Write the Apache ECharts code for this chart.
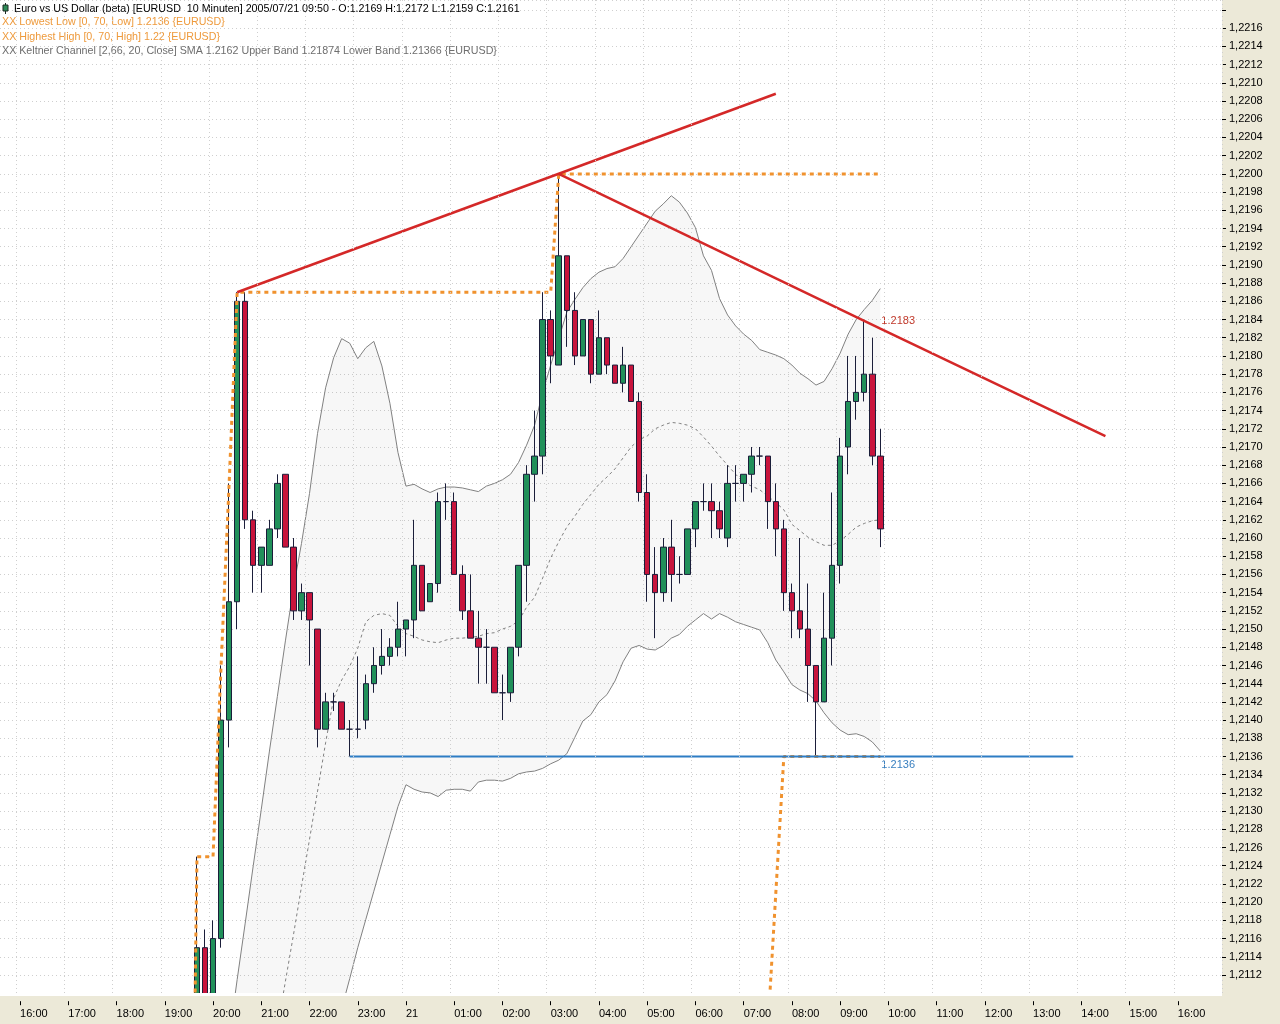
<!DOCTYPE html>
<html>
<head>
<meta charset="utf-8">
<title>Euro vs US Dollar - 10 Minuten</title>
<script src="https://cdn.jsdelivr.net/npm/echarts@6.0.0/dist/echarts.min.js"></script>
<style>
  html, body { margin: 0; padding: 0; background: #ECE9D8; }
  #chart { width: 1280px; height: 1024px; }
</style>
</head>
<body>
<div id="chart"></div>
<script>
// Kerzen (10 Minuten), 2005/07/20 19:40 bis 2005/07/21 09:50
var candleTimes = [
  '19:40','19:50','20:00','20:10','20:20','20:30','20:40','20:50','21:00','21:10','21:20','21:30',
  '21:40','21:50','22:00','22:10','22:20','22:30','22:40','22:50','23:00','23:10','23:20','23:30',
  '23:40','23:50','00:00','00:10','00:20','00:30','00:40','00:50','01:00','01:10','01:20','01:30',
  '01:40','01:50','02:00','02:10','02:20','02:30','02:40','02:50','03:00','03:10','03:20','03:30',
  '03:40','03:50','04:00','04:10','04:20','04:30','04:40','04:50','05:00','05:10','05:20','05:30',
  '05:40','05:50','06:00','06:10','06:20','06:30','06:40','06:50','07:00','07:10','07:20','07:30',
  '07:40','07:50','08:00','08:10','08:20','08:30','08:40','08:50','09:00','09:10','09:20','09:30',
  '09:40','09:50'
];
var opens = [
  1.2106, 1.2115, 1.2108, 1.2116, 1.2140, 1.2153, 1.2186, 1.2162, 1.2157, 1.2157, 1.2161, 1.2167,
  1.2159, 1.2152, 1.2154, 1.2150, 1.2139, 1.2142, 1.2142, 1.2139, 1.2139, 1.2140, 1.2144, 1.2146,
  1.2147, 1.2148, 1.2150, 1.2151, 1.2157, 1.2153, 1.2155, 1.2164, 1.2164, 1.2156, 1.2152, 1.2149,
  1.2148, 1.2148, 1.2143, 1.2143, 1.2148, 1.2157, 1.2167, 1.2169, 1.2184, 1.2179, 1.2191, 1.2185,
  1.2180, 1.2184, 1.2178, 1.2182, 1.2179, 1.2177, 1.2179, 1.2175, 1.2165, 1.2156, 1.2154, 1.2159,
  1.2156, 1.2156, 1.2161, 1.2164, 1.2164, 1.2163, 1.2160, 1.2166, 1.2166, 1.2167, 1.2169, 1.2169,
  1.2164, 1.2161, 1.2154, 1.2152, 1.2150, 1.2146, 1.2142, 1.2149, 1.2157, 1.2170, 1.2175, 1.2176,
  1.2178, 1.2169
];
var highs = [
  1.2125, 1.2117, 1.2118, 1.2146, 1.2166, 1.2187, 1.2187, 1.2163, 1.2159, 1.2162, 1.2167, 1.2167,
  1.2160, 1.2155, 1.2154, 1.2150, 1.2143, 1.2143, 1.2142, 1.2140, 1.2147, 1.2145, 1.2148, 1.2150,
  1.2149, 1.2153, 1.2151, 1.2162, 1.2157, 1.2155, 1.2165, 1.2166, 1.2165, 1.2157, 1.2156, 1.2152,
  1.2150, 1.2148, 1.2145, 1.2148, 1.2157, 1.2168, 1.2174, 1.2187, 1.2185, 1.2200, 1.2191, 1.2187,
  1.2184, 1.2184, 1.2185, 1.2182, 1.2179, 1.2181, 1.2179, 1.2176, 1.2167, 1.2159, 1.2160, 1.2162,
  1.2158, 1.2161, 1.2164, 1.2166, 1.2166, 1.2164, 1.2168, 1.2168, 1.2167, 1.2170, 1.2170, 1.2169,
  1.2166, 1.2162, 1.2155, 1.2160, 1.2155, 1.2146, 1.2154, 1.2165, 1.2171, 1.2180, 1.2180, 1.2184,
  1.2182, 1.2172
];
var lows = [
  1.2104, 1.2105, 1.2106, 1.2115, 1.2137, 1.2150, 1.2161, 1.2154, 1.2154, 1.2157, 1.2160, 1.2159,
  1.2151, 1.2151, 1.2146, 1.2137, 1.2139, 1.2141, 1.2139, 1.2136, 1.2138, 1.2139, 1.2143, 1.2145,
  1.2146, 1.2147, 1.2147, 1.2149, 1.2152, 1.2153, 1.2154, 1.2162, 1.2156, 1.2151, 1.2149, 1.2144,
  1.2144, 1.2143, 1.2140, 1.2142, 1.2147, 1.2153, 1.2164, 1.2167, 1.2177, 1.2179, 1.2181, 1.2179,
  1.2180, 1.2177, 1.2178, 1.2178, 1.2177, 1.2176, 1.2175, 1.2164, 1.2153, 1.2149, 1.2153, 1.2153,
  1.2155, 1.2156, 1.2159, 1.2163, 1.2160, 1.2160, 1.2159, 1.2164, 1.2164, 1.2165, 1.2168, 1.2161,
  1.2158, 1.2152, 1.2149, 1.2149, 1.2142, 1.2136, 1.2142, 1.2146, 1.2155, 1.2167, 1.2173, 1.2175,
  1.2168, 1.2159
];
var closes = [
  1.2115, 1.2107, 1.2116, 1.2140, 1.2153, 1.2186, 1.2162, 1.2157, 1.2159, 1.2161, 1.2166, 1.2159,
  1.2152, 1.2154, 1.2151, 1.2139, 1.2142, 1.2142, 1.2139, 1.2139, 1.2139, 1.2144, 1.2146, 1.2147,
  1.2148, 1.2150, 1.2151, 1.2157, 1.2152, 1.2155, 1.2164, 1.2164, 1.2156, 1.2152, 1.2149, 1.2148,
  1.2148, 1.2143, 1.2143, 1.2148, 1.2157, 1.2167, 1.2169, 1.2184, 1.2180, 1.2191, 1.2185, 1.2180,
  1.2184, 1.2178, 1.2182, 1.2179, 1.2177, 1.2179, 1.2175, 1.2165, 1.2156, 1.2154, 1.2159, 1.2156,
  1.2156, 1.2161, 1.2164, 1.2164, 1.2163, 1.2161, 1.2166, 1.2166, 1.2167, 1.2169, 1.2169, 1.2164,
  1.2161, 1.2154, 1.2152, 1.2150, 1.2146, 1.2142, 1.2149, 1.2157, 1.2169, 1.2175, 1.2176, 1.2178,
  1.2169, 1.2161
];

// Keltner Channel [2,66, 20, Close], gleiche Zeitpunkte wie die Kerzen
var kcUpper = [
  null, null, null, null, 1.2105, 1.21115, 1.21177, 1.2124, 1.21302, 1.21365, 1.21426, 1.21487,
  1.21545, 1.21594, 1.21649, 1.21715, 1.21765, 1.21798, 1.21819, 1.21814, 1.21797, 1.21809, 1.21816, 1.21789,
  1.21748, 1.21694, 1.21657, 1.21659, 1.21654, 1.2165, 1.21654, 1.21656, 1.21656, 1.21655, 1.21653, 1.21651,
  1.21657, 1.2166, 1.21664, 1.2167, 1.21683, 1.21702, 1.21724, 1.2176, 1.2179, 1.21819, 1.21848, 1.21862,
  1.21875, 1.21885, 1.21892, 1.21896, 1.21898, 1.21907, 1.2192, 1.21933, 1.21946, 1.21959, 1.21967, 1.21976,
  1.21969, 1.21957, 1.21941, 1.2191, 1.21894, 1.21863, 1.21845, 1.21833, 1.21824, 1.21817, 1.21807, 1.21804,
  1.21801, 1.21797, 1.2179, 1.21781, 1.21775, 1.21768, 1.21772, 1.21786, 1.21803, 1.21824, 1.2184, 1.21851,
  1.21861, 1.21874
];
var kcMiddle = [
  null, null, null, null, null, null, null, null, null, null, 1.21061, 1.21113,
  1.21164, 1.21217, 1.21269, 1.21322, 1.21375, 1.21424, 1.21444, 1.21459, 1.21479, 1.21508, 1.21515, 1.21517,
  1.21515, 1.21503, 1.21495, 1.21492, 1.21488, 1.21486, 1.21485, 1.21488, 1.2149, 1.2149, 1.21491, 1.21492,
  1.21495, 1.21496, 1.215, 1.21503, 1.21509, 1.21524, 1.21535, 1.21556, 1.21578, 1.21596, 1.21612, 1.21624,
  1.21637, 1.21648, 1.21659, 1.21667, 1.21676, 1.21688, 1.217, 1.21708, 1.21712, 1.2172, 1.21724, 1.21727,
  1.21726, 1.21724, 1.2172, 1.21711, 1.21701, 1.2169, 1.2168, 1.2167, 1.21661, 1.21657, 1.21653, 1.21646,
  1.21639, 1.21631, 1.21615, 1.21608, 1.21601, 1.21596, 1.21592, 1.21592, 1.21597, 1.21604, 1.21612, 1.21616,
  1.21619, 1.2162
];
var kcLower = [
  null, null, null, null, null, null, null, null, null, null, null, null,
  null, null, null, null, null, 1.21049, 1.21083, 1.21116, 1.2115, 1.21181, 1.21212, 1.21243,
  1.21274, 1.21305, 1.21329, 1.21324, 1.21321, 1.2132, 1.21316, 1.21323, 1.21324, 1.21324, 1.21322, 1.21332,
  1.21334, 1.21334, 1.21333, 1.21336, 1.21341, 1.21343, 1.21344, 1.21347, 1.21352, 1.21356, 1.21363, 1.21381,
  1.21399, 1.21406, 1.2142, 1.21428, 1.21443, 1.21464, 1.21479, 1.21482, 1.21478, 1.21477, 1.21482, 1.2149,
  1.21494, 1.21503, 1.2151, 1.21517, 1.21511, 1.21517, 1.21513, 1.21508, 1.21505, 1.21502, 1.21499, 1.21485,
  1.21466, 1.21453, 1.21439, 1.21433, 1.21429, 1.21421, 1.21408, 1.21397, 1.21389, 1.21384, 1.21385, 1.21382,
  1.21376, 1.21366
];

// Highest High / Lowest Low [0, 70]
var highestHigh = [
  ['19:30', 1.2060], ['19:40', 1.2125], ['20:00', 1.2125], ['20:10', 1.2146], ['20:20', 1.2166],
  ['20:30', 1.2187], ['03:00', 1.2187], ['03:10', 1.2200], ['09:50', 1.2200]
];
var lowestLow = [['07:30', 1.2106], ['07:40', 1.2121], ['07:50', 1.2136], ['09:50', 1.2136]];

// gezeichnete Linien
var upTrend = [['20:30', 1.2187], ['07:40', 1.22088]];
var downTrend = [['03:10', 1.2200], ['09:50', 1.2183], ['14:30', 1.21712]];
var supportLine = [['22:50', 1.2136], ['09:50', 1.2136], ['13:50', 1.2136]];

var Y_MIN = 1.2110, Y_MAX = 1.22191, Y_STEP = 0.0002, Y_LAST_LABEL = 1.2216;
var FONT = '"Liberation Sans", Arial, sans-serif';

// Achse: 10-Minuten-Schritte von 15:40 bis 16:50 am Folgetag
var slots = [];
function pad(n) { return (n < 10 ? '0' : '') + n; }
for (var i = 0; i < 152; i++) {
  var m = (15 * 60 + 40 + i * 10) % 1440;
  slots.push(pad(Math.floor(m / 60)) + ':' + pad(m % 60));
}
function slotOf(t) { return slots.indexOf(t); }
function isHour(index, value) { return value.slice(3) === '00'; }

// Kerzen und Kanal auf die Achse legen
var candleData = candleTimes.map(function (t, i) {
  return [slotOf(t), opens[i], closes[i], lows[i], highs[i]];
});
function onAxis(values) {
  var out = slots.map(function () { return null; });
  candleTimes.forEach(function (t, i) { out[slotOf(t)] = values[i]; });
  return out;
}
var bandBase = kcUpper.map(function (u, i) {
  if (u == null) return null;
  return kcLower[i] != null ? kcLower[i] : Y_MIN;
});
var bandWidth = kcUpper.map(function (u, i) {
  return u == null ? null : u - bandBase[i];
});
function toPoints(list) {
  return list.map(function (p) { return [slotOf(p[0]), p[1]]; });
}
function headerStyle(color) {
  return { fontSize: 10.7, fontWeight: 'normal', color: color, fontFamily: FONT };
}

var myChart = echarts.init(document.getElementById('chart'));

var option = {
  animation: false,
  backgroundColor: '#ECE9D8',
  textStyle: { fontFamily: FONT },
  title: [
    { text: 'Euro vs US Dollar (beta) [EURUSD  10 Minuten] 2005/07/21 09:50 - O:1.2169 H:1.2172 L:1.2159 C:1.2161',
      left: 14, top: 4, padding: 0, textStyle: headerStyle('#000') },
    { text: 'XX Lowest Low [0, 70, Low] 1.2136 {EURUSD}',
      left: 2, top: 17, padding: 0, textStyle: headerStyle('#EE9A3C') },
    { text: 'XX Highest High [0, 70, High] 1.22 {EURUSD}',
      left: 2, top: 32, padding: 0, textStyle: headerStyle('#EE9A3C') },
    { text: 'XX Keltner Channel [2,66, 20, Close] SMA 1.2162 Upper Band 1.21874 Lower Band 1.21366 {EURUSD}',
      left: 2, top: 46, padding: 0, textStyle: headerStyle('#6E6E6E') }
  ],
  graphic: [
    // Kerzen unterhalb des Zeichenbereichs abdecken (Candlestick wird nicht beschnitten)
    { type: 'rect', left: 0, top: 993, z: 100, silent: true,
      shape: { width: 1222, height: 3 }, style: { fill: '#fff' } },
    { type: 'rect', left: 0, top: 996, z: 100, silent: true,
      shape: { width: 1280, height: 28 }, style: { fill: '#ECE9D8' } },
    { type: 'line', z: 100, shape: { x1: 5.5, y1: 3, x2: 5.5, y2: 14 }, style: { stroke: '#1a2a22', lineWidth: 1 } },
    { type: 'rect', z: 100, shape: { x: 3, y: 5, width: 5, height: 6 }, style: { fill: '#2E8B57', stroke: '#1a2a22', lineWidth: 1 } }
  ],
  grid: {
    left: 0, right: 58, top: 0, bottom: 30.8,
    show: true, backgroundColor: '#fff', borderWidth: 0
  },
  xAxis: {
    type: 'category',
    data: slots,
    boundaryGap: true,
    offset: 8,
    z: 200,
    axisLine: { show: false },
    axisTick: { show: true, alignWithLabel: true, interval: isHour, length: 4, lineStyle: { color: '#000' } },
    axisLabel: {
      interval: isHour, align: 'left', margin: 7, color: '#000', fontSize: 11, fontFamily: FONT,
      formatter: function (v) { return v === '00:00' ? '21' : v; }
    },
    splitLine: { show: true, interval: isHour, lineStyle: { color: '#CFCFCF', type: [1, 3] } }
  },
  yAxis: {
    type: 'value',
    position: 'right',
    min: Y_MIN,
    max: Y_MAX,
    interval: Y_STEP,
    axisLine: { show: false },
    axisTick: { show: true, length: 4, lineStyle: { color: '#000' } },
    axisLabel: {
      margin: 7, color: '#000', fontSize: 11, fontFamily: FONT,
      showMinLabel: false, showMaxLabel: false,
      formatter: function (v) {
        return v > Y_LAST_LABEL + 0.00005 ? '' : v.toFixed(4).replace('.', ',');
      }
    },
    splitLine: { show: true, lineStyle: { color: '#CFCFCF', type: [1, 3] } }
  },
  series: [
    {
      name: 'kc-base', type: 'line', stack: 'kc', stackStrategy: 'all',
      data: onAxis(bandBase), symbol: 'none', silent: true,
      lineStyle: { opacity: 0 }, z: 1
    },
    {
      name: 'kc-band', type: 'line', stack: 'kc', stackStrategy: 'all',
      data: onAxis(bandWidth), symbol: 'none', silent: true,
      lineStyle: { opacity: 0 }, areaStyle: { color: 'rgba(0,0,0,0.045)' }, z: 1
    },
    {
      name: 'Upper Band', type: 'line', data: onAxis(kcUpper), symbol: 'none',
      lineStyle: { color: '#808080', width: 1 }, z: 2
    },
    {
      name: 'SMA', type: 'line', data: onAxis(kcMiddle), symbol: 'none',
      lineStyle: { color: '#808080', width: 1, type: [3, 3] }, z: 2
    },
    {
      name: 'Lower Band', type: 'line', data: onAxis(kcLower), symbol: 'none',
      lineStyle: { color: '#808080', width: 1 }, z: 2
    },
    {
      name: 'EURUSD', type: 'candlestick',
      data: candleData,
      encode: { x: 0, y: [1, 2, 3, 4] },
      barWidth: 6,
      itemStyle: {
        color: '#21905A', color0: '#C8143C',
        borderColor: '#1B1E3A', borderColor0: '#1B1E3A', borderWidth: 1
      },
      z: 3
    },
    {
      name: 'Highest High', type: 'line', data: toPoints(highestHigh), symbol: 'none',
      lineStyle: { color: '#F0922E', width: 3, type: [4, 4] }, z: 4
    },
    {
      name: 'Lowest Low', type: 'line', data: toPoints(lowestLow), symbol: 'none',
      lineStyle: { color: '#F0922E', width: 3, type: [4, 4] }, z: 4
    },
    {
      name: 'Trend oben', type: 'line', data: toPoints(upTrend), symbol: 'none',
      lineStyle: { color: '#D42828', width: 2.5 }, z: 5
    },
    {
      name: 'Trend unten', type: 'line', symbol: 'circle', symbolSize: 0.1,
      data: toPoints(downTrend).map(function (p, i) {
        return i === 1 ? {
          value: p,
          label: {
            show: true, position: 'right', offset: [-4, -8],
            color: '#C0392B', fontSize: 11, fontFamily: FONT,
            formatter: function (params) { return params.value[1].toFixed(4); }
          }
        } : p;
      }),
      itemStyle: { color: '#D42828' },
      lineStyle: { color: '#D42828', width: 2.5 }, z: 5
    },
    {
      name: 'Unterstuetzung', type: 'line', symbol: 'circle', symbolSize: 0.1,
      data: toPoints(supportLine).map(function (p, i) {
        return i === 1 ? {
          value: p,
          label: {
            show: true, position: 'right', offset: [-4, 8],
            color: '#3A80C0', fontSize: 11, fontFamily: FONT,
            formatter: function (params) { return params.value[1].toFixed(4); }
          }
        } : p;
      }),
      itemStyle: { color: '#2E7DC4' },
      lineStyle: { color: '#2E7DC4', width: 2 }, z: 5
    }
  ]
};

myChart.setOption(option);
</script>
</body>
</html>
